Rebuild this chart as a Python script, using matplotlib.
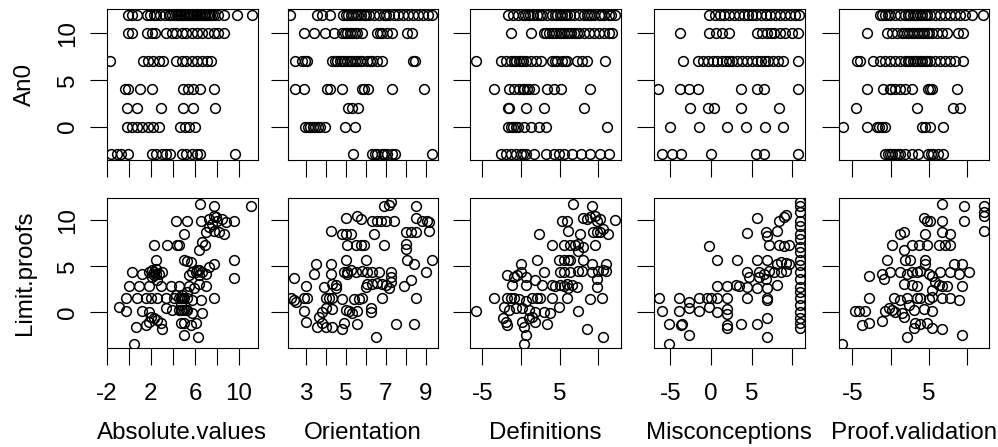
import numpy as np
import matplotlib.pyplot as plt

plt.rcParams['font.family'] = ['Liberation Sans', 'DejaVu Sans']

x_names = ["Absolute.values", "Orientation", "Definitions", "Misconceptions", "Proof.validation"]
y_names = ["An0", "Limit.proofs"]

# An0 takes a handful of levels; x values of the students at each level
an0_absolute = {
    12: [-0.06, 0.24, 0.7, 1.6, 1.9, 2.3, 2.5, 2.8, 3.3, 3.6, 3.75, 3.9, 4.2, 4.35, 4.5, 4.6, 4.75, 4.9,
         5.05, 5.2, 5.35, 5.5, 5.65, 5.8, 5.95, 6.1, 6.2, 6.35, 6.5, 6.65, 6.8, 6.95, 7.1, 7.25, 7.4,
         7.55, 7.7, 8.1, 8.6, 9.8, 11.2],
    10: [-0.06, 0.24, 1.6, 2.06, 2.4, 3.4, 3.9, 4.3, 4.8, 5.2, 5.7, 6.2, 6.6, 7.2, 7.7, 8.1, 8.6],
    7: [-1.7, 1.3, 1.76, 2.2, 2.7, 3.1, 4.3, 4.8, 5.2, 5.7, 6.2, 6.6, 7.1, 7.5],
    4: [-0.36, -0.06, 1.0, 2.06, 4.9, 5.4, 5.8, 6.5, 7.7],
    2: [-0.2, 0.7, 2.9, 4.9, 5.8, 7.8],
    0: [-0.2, 0.24, 0.7, 1.15, 1.76, 2.2, 2.7, 4.6, 5.1, 5.5, 6.0],
    -3: [-1.6, -1.1, -0.7, -0.06, 2.06, 2.5, 3.0, 3.4, 3.7, 4.8, 5.2, 5.7, 6.2, 6.5, 9.6],
}
an0_orientation = {
    12: [2.24, 3.56, 3.81, 4.23, 4.89, 5.0, 5.14, 5.25, 5.39, 5.5, 5.64, 5.75, 5.89, 6.0, 6.14, 6.39,
         6.64, 6.89, 7.0, 7.14, 7.39, 7.63, 7.88, 8.13, 8.38, 8.63, 8.88, 9.13, 9.3],
    10: [2.9, 3.4, 3.98, 4.4, 4.81, 4.95, 5.06, 5.2, 5.31, 5.45, 5.56, 5.81, 6.55, 6.7, 6.8, 7.05, 7.3,
         8.05, 8.3],
    7: [2.49, 2.82, 2.95, 3.07, 4.31, 4.45, 4.56, 4.7, 4.81, 4.9, 5.06, 5.2, 5.31, 5.45, 5.56, 5.7,
        5.81, 6.06, 6.2, 6.31, 6.55, 6.8, 8.38, 8.45],
    4: [2.49, 2.9, 4.06, 4.23, 4.81, 5.81, 5.9, 6.09, 7.3, 8.91],
    2: [5.14, 5.3, 5.64],
    0: [2.98, 3.1, 3.23, 3.35, 3.48, 3.6, 3.73, 3.98, 4.98, 5.48],
    -3: [5.39, 6.31, 6.45, 6.55, 6.8, 6.9, 7.05, 7.3, 7.47, 9.3],
}
an0_definitions = {
    12: [-1.7, -1.07, -0.43, 0.2, 0.5, 0.86, 1.2, 1.5, 2.14, 2.5, 2.78, 3.43, 4.07, 4.4, 4.7, 5.0, 5.36,
         5.7, 6.0, 6.4, 6.86, 7.5, 8.14, 8.5, 8.78, 9.1, 9.43, 10.07, 10.4, 10.7, 11.35, 11.6, 12.2],
    10: [-1.3, 1.3, 3.0, 3.3, 3.64, 4.0, 4.28, 4.6, 4.93, 5.2, 5.57, 5.9, 6.2, 6.5, 6.86, 7.2, 7.5,
         8.14, 8.78, 9.43, 10.07, 10.7, 11.35, 11.8],
    7: [-5.8, -2.57, -1.93, -1.29, -0.9, -0.64, -0.3, 0.0, 0.3, 0.64, 1.29, 1.93, 2.57, 4.07, 4.4, 4.71,
        5.36, 5.7, 6.0, 7.28, 7.93, 8.57, 10.9],
    4: [-3.43, -1.5, -0.86, -0.2, 0.2, 0.43, 0.8, 1.07, 1.71, 3.43, 4.28, 5.14, 9.0],
    2: [-1.71, -1.6, 0.64, 3.0, 8.14],
    0: [-1.71, -1.3, -1.07, -0.7, -0.43, 0.43, 1.29, 2.36, 3.2, 11.1],
    -3: [-2.57, -1.93, -1.29, -0.64, 0.0, 0.2, 0.64, 1.71, 3.2, 4.28, 4.93, 5.57, 6.64, 7.71, 9.0,
         10.28, 11.35],
}
an0_misconceptions = {
    12: [-0.2, 0.45, 1.1, 1.6, 2.2, 2.8, 3.4, 4.0, 4.5, 5.0, 5.5, 6.1, 6.7, 7.3, 7.9, 8.5, 9.1, 9.7,
         10.3, 10.8],
    10: [-3.85, -0.2, 0.6, 1.4, 2.2, 5.67, 6.28, 6.9, 7.4, 7.7, 8.5, 9.1, 9.9, 10.7],
    7: [-3.4, -1.6, -1.0, -0.4, 0.2, 0.8, 1.4, 1.8, 2.2, 2.6, 3.2, 3.8, 4.4, 5.0, 5.6, 6.2, 6.6, 7.0,
        7.6, 8.2, 8.8, 10.7],
    4: [-6.48, -3.85, -2.75, -1.6, 3.64, 5.67, 6.5, 10.7],
    2: [-2.63, -0.4, 0.4, 3.64, 8.3],
    0: [-5.06, -1.42, 2.0, 4.25, 6.68, 8.9],
    -3: [-6.07, -4.8, -3.64, 0.0, 5.47, 6.48, 10.7],
}
an0_proof = {
    12: [-1.39, -1.1, -0.74, -0.4, -0.09, 0.57, 1.22, 1.87, 2.2, 2.53, 2.85, 3.18, 3.5, 3.83, 4.15,
         4.49, 4.8, 5.14, 5.8, 6.45, 7.1, 7.76, 8.41, 9.06, 9.72, 10.6, 12.1],
    10: [-3.14, -0.52, 0.13, 0.78, 1.44, 1.8, 2.09, 2.4, 2.75, 3.1, 3.4, 3.7, 4.05, 4.4, 4.7, 5.0, 5.36,
         6.0, 6.67, 7.32, 8.85, 9.5],
    7: [-4.44, -4.0, -2.27, -1.39, -0.74, -0.09, 0.57, 1.22, 1.87, 2.2, 2.53, 2.85, 3.18, 3.5, 3.83,
        4.15, 4.49, 4.8, 5.14, 5.8, 6.45, 7.1, 7.76, 8.4, 9.5],
    4: [-3.14, -0.96, -0.09, 0.1, 0.57, 1.22, 1.87, 2.75, 4.92, 5.1, 5.36, 8.63],
    2: [-4.53, 3.4, 8.19, 9.06],
    0: [-6.27, -3.14, -1.83, -1.5, -1.18, -0.74, 4.05, 4.49, 5.14, 6.88],
    -3: [-0.74, -0.4, -0.09, 0.2, 0.57, 0.9, 1.22, 1.87, 2.75, 3.62, 4.92, 5.25, 5.58, 6.23, 6.88],
}

# Limit.proofs against each x variable, (x, y) pairs
lp_absolute = [
    (6.45, 11.76), (7.73, 11.51), (11.06, 11.51),
    (4.24, 9.96), (5.3, 9.96), (6.52, 9.96), (7.27, 10.14), (7.73, 10.5), (8.03, 9.96), (8.48, 10.14),
    (8.79, 9.78), (9.55, 9.96), (7.58, 9.6), (7.88, 10.32),
    (7.27, 9.24), (6.97, 8.71), (7.73, 8.88), (8.64, 8.53), (8.18, 8.71), (5.0, 8.53),
    (6.67, 7.63), (6.91, 7.27), (6.36, 6.73), (2.27, 7.27), (3.48, 7.27), (4.39, 7.27), (4.55, 7.27),
    (2.42, 5.65), (5.0, 5.65), (5.3, 5.54), (5.61, 5.47), (7.73, 5.29), (9.55, 5.65), (9.55, 3.74),
    (0.3, 4.39), (1.21, 4.21), (1.82, 4.39), (2.12, 4.57), (2.42, 4.75), (2.73, 4.21), (3.03, 4.39),
    (2.12, 3.85), (2.58, 3.49), (2.27, 4.03), (2.27, 4.39), (2.42, 4.21),
    (5.76, 4.39), (6.21, 4.57), (6.67, 4.39), (6.97, 4.21), (7.27, 4.93), (6.36, 4.03), (5.45, 4.03),
    (6.06, 4.39), (6.36, 4.57),
    (0.0, 2.84), (0.91, 2.84), (1.82, 2.84), (2.88, 2.84), (3.79, 2.84), (4.55, 2.84), (5.45, 2.84),
    (5.91, 2.59), (6.36, 3.13), (6.97, 2.84),
    (-0.3, 1.51), (0.76, 1.51), (1.52, 1.51), (1.97, 1.51), (2.58, 1.51), (3.33, 1.51), (4.09, 1.51),
    (4.55, 1.51), (4.7, 1.51), (4.85, 1.51), (5.0, 1.51), (5.3, 1.51), (5.76, 1.33), (6.52, 1.33),
    (7.73, 1.51), (4.24, 1.87), (4.85, 1.87), (5.3, 2.23),
    (-0.91, 0.61), (-0.3, 0.14), (1.21, 0.14), (1.82, 0.07), (3.33, 0.43), (3.94, 0.25), (4.55, 0.25),
    (4.7, 0.25), (4.85, 0.25), (5.0, 0.25), (5.15, 0.25), (5.3, 0.25), (5.76, -0.11), (6.67, -0.11),
    (4.7, 0.79),
    (1.97, -0.47), (2.27, -0.65), (2.58, -0.83), (1.82, -1.01), (0.61, -1.55), (1.52, -1.37),
    (3.03, -1.8), (2.88, -1.19),
    (4.7, -1.19), (5.0, -1.19), (5.61, -1.37), (6.06, -1.19), (5.0, -2.45), (6.3, -2.7), (0.45, -3.42),
]
lp_orientation = [
    (6.92, 11.58), (7.17, 11.65), (8.5, 11.51), (7.25, 12.01),
    (5.0, 10.22), (5.58, 10.43), (5.75, 10.14), (6.33, 9.96), (6.58, 9.96), (6.75, 9.96), (7.0, 9.96),
    (7.42, 9.96), (8.5, 10.22), (8.83, 9.96), (9.08, 9.96), (9.17, 9.86),
    (4.25, 8.88), (4.83, 8.53), (5.0, 8.53), (5.25, 8.53), (6.42, 8.53), (8.0, 8.71), (8.25, 8.71),
    (8.5, 8.71), (9.17, 8.88),
    (5.08, 7.27), (5.5, 7.27), (5.75, 7.27), (5.92, 7.27), (6.92, 7.27), (8.0, 7.45), (8.0, 6.91),
    (3.5, 5.29), (4.25, 5.29), (5.0, 5.65), (6.0, 5.65), (8.08, 5.65), (8.42, 5.29), (9.33, 5.65),
    (9.0, 4.39),
    (3.42, 4.21), (4.25, 4.21), (4.92, 4.39), (5.08, 4.39), (5.25, 4.57), (5.5, 4.39), (5.83, 4.46),
    (6.08, 4.39), (6.33, 4.39), (6.67, 4.39), (7.25, 4.39), (8.25, 3.49),
    (2.42, 3.74), (4.5, 2.95), (4.33, 3.13), (5.08, 4.21), (6.08, 3.13), (6.33, 3.13), (6.58, 3.24),
    (6.83, 3.13), (7.0, 2.95), (7.25, 3.31), (7.25, 3.85), (7.92, 2.88),
    (3.0, 2.88), (3.08, 1.58), (3.92, 2.77), (4.5, 2.66), (6.0, 2.77), (7.17, 2.59),
    (2.25, 1.58), (2.5, 1.15), (2.42, 1.33), (2.92, 1.58), (4.0, 1.58), (4.17, 1.51), (4.33, 1.51),
    (4.83, 1.44), (5.42, 1.44), (5.67, 1.44), (5.83, 1.51), (6.83, 1.58), (8.5, 1.51),
    (2.92, 0.14), (3.83, 0.07), (4.0, 0.43), (4.33, 0.36), (5.0, 0.25), (5.17, 0.14), (5.33, -0.11),
    (5.58, 0.14), (6.25, 0.43), (6.25, 0.07),
    (3.0, -1.01), (3.67, -0.47), (3.83, -1.19), (3.58, -1.65), (4.0, -1.55), (4.33, -1.55), (4.83, -1.8),
    (4.92, -1.19), (5.58, -1.26), (7.5, -1.26), (8.42, -1.26), (6.5, -2.73),
]
lp_definitions = [
    (6.79, 11.76), (9.15, 11.51), (5.3, 9.96), (5.94, 9.96), (8.08, 10.22), (8.5, 10.14), (8.93, 10.32),
    (9.57, 10.43), (9.79, 9.96), (10.21, 10.14), (12.14, 10.07),
    (2.31, 8.53), (6.15, 8.88), (7.65, 8.53), (9.36, 8.71), (9.79, 8.71), (10.21, 8.78), (11.28, 8.53),
    (10.64, 9.06),
    (4.02, 7.27), (5.51, 7.27), (6.37, 7.27), (7.01, 7.27), (7.44, 7.45), (8.08, 7.09), (9.57, 7.27),
    (7.44, 6.62),
    (-0.04, 5.29), (2.09, 5.65), (4.87, 5.65), (5.51, 5.65), (6.15, 5.65), (6.37, 5.65), (8.08, 5.65),
    (9.15, 5.29), (11.07, 5.29),
    (-1.75, 4.03), (-0.9, 3.85), (-0.47, 4.1), (-0.04, 4.39), (0.6, 3.85), (-1.11, 2.95), (0.6, 2.95),
    (2.95, 4.39), (5.09, 4.39), (5.51, 4.39), (6.37, 4.39), (7.44, 4.46), (7.86, 4.46), (9.15, 4.39),
    (10.0, 4.46), (10.64, 4.57), (11.07, 4.46), (9.79, 3.67), (9.79, 2.77),
    (1.88, 3.49), (2.74, 2.95), (4.02, 2.95), (4.44, 2.88), (5.09, 3.02), (5.51, 2.88), (5.94, 3.13),
    (6.58, 2.95), (7.22, 2.77), (6.15, 2.59),
    (-5.81, 0.14), (-3.46, 1.58), (-1.75, 1.58), (-1.32, 1.51), (-0.9, 1.58), (-0.26, 1.44), (0.6, 1.22),
    (1.45, 1.51), (2.09, 1.58), (2.52, 1.51), (4.02, 1.58), (5.94, 1.58), (8.93, 1.44), (10.43, 1.58),
    (-2.18, 0.61), (-1.54, 0.25), (-0.68, 0.43), (0.17, 0.43), (1.03, 0.25), (1.88, 0.07), (2.95, 0.0),
    (3.8, -0.11), (4.87, 0.61), (7.44, 0.14),
    (-2.39, -0.58), (-1.97, -1.08), (-1.75, -1.37), (0.17, -1.08), (0.38, -1.55), (1.03, -0.65),
    (1.45, -0.47), (1.88, -1.01), (3.38, -1.29),
    (0.6, -2.52), (0.38, -3.45), (8.5, -1.8), (10.64, -2.66),
]
lp_misconceptions = [
    (10.94, 12.0), (10.94, 11.6), (10.94, 10.86), (10.94, 9.96), (10.94, 9.42), (10.94, 8.53),
    (10.94, 7.99), (10.94, 7.09), (10.94, 6.55), (10.94, 5.65), (10.94, 5.11), (10.94, 4.39),
    (10.94, 3.67), (10.94, 2.77), (10.94, 2.23), (10.94, 1.51), (10.94, 0.79), (10.94, 0.07),
    (10.94, -0.65), (10.94, -1.19), (10.94, -1.73),
    (5.7, 10.22), (8.36, 9.96), (8.98, 10.32), (9.18, 10.58), (4.47, 8.63), (6.72, 8.71), (8.16, 8.88),
    (6.93, 8.35),
    (-0.25, 7.19), (7.13, 7.27), (8.36, 7.27), (8.98, 7.19), (9.59, 7.34),
    (0.78, 5.65), (3.24, 5.65), (5.7, 5.65), (6.93, 5.65), (8.16, 5.29), (8.57, 5.47), (9.18, 5.4),
    (9.59, 5.29),
    (4.47, 4.39), (5.9, 4.39), (6.52, 4.21), (7.13, 4.46), (7.75, 4.39), (4.67, 3.85), (5.9, 3.85),
    (6.72, 3.67), (8.16, 2.95), (8.57, 4.39), (9.18, 4.46),
    (0.78, 2.88), (2.0, 2.88), (3.03, 2.95), (3.44, 2.88), (4.47, 2.77), (5.7, 2.59), (6.93, 2.59),
    (-6.39, 1.58), (-3.93, 1.58), (-2.7, 1.15), (-1.48, 1.58), (-0.45, 1.51), (-0.04, 1.58), (0.78, 1.58),
    (2.0, 1.58), (4.47, 1.58), (6.93, 1.58), (6.93, 1.33),
    (-5.98, 0.14), (-3.93, 0.14), (-2.7, 0.43), (-1.48, 0.14), (-0.25, 0.61), (0.78, 0.0), (2.0, 0.36),
    (2.0, -0.22),
    (-5.16, -1.29), (-3.73, -1.37), (-3.52, -1.29), (-2.7, -2.52), (2.0, -1.37), (2.0, -1.73),
    (3.65, -1.29), (5.7, -1.29), (6.93, -0.58), (6.93, -2.73), (-5.16, -3.45),
]
lp_proof = [
    (6.72, 11.76), (9.56, 11.51), (12.18, 11.58), (12.18, 10.43), (12.18, 10.86), (12.18, 8.88),
    (9.56, 9.96), (6.72, 9.96), (4.32, 10.22), (4.76, 9.96), (5.2, 9.96),
    (1.27, 8.53), (1.7, 8.71), (4.54, 8.53), (6.72, 8.78), (7.82, 8.53),
    (0.17, 7.27), (2.79, 7.34), (3.67, 7.27), (4.76, 7.27), (6.29, 7.27), (7.16, 7.27), (7.82, 7.27),
    (1.7, 6.73),
    (-0.48, 5.65), (1.92, 5.65), (2.58, 5.65), (4.54, 5.65), (4.54, 5.29),
    (-2.88, 3.96), (-1.14, 4.21), (-0.92, 3.6), (-0.04, 4.39), (1.27, 4.39), (2.14, 4.21), (2.79, 4.39),
    (3.45, 4.39), (3.89, 4.46), (4.98, 4.21), (5.41, 3.96), (6.51, 4.39), (7.82, 4.39), (8.25, 5.29),
    (9.34, 5.29), (10.22, 4.39), (8.91, 4.21),
    (1.7, 3.13), (2.79, 2.95), (3.45, 2.88), (5.85, 3.31), (6.29, 2.95), (6.72, 2.88), (7.38, 2.88),
    (9.34, 2.88), (5.41, 2.41),
    (-2.88, 1.58), (0.39, 1.58), (1.27, 1.33), (2.14, 1.58), (3.45, 1.58), (3.89, 1.51), (4.98, 1.44),
    (5.41, 1.69), (6.72, 1.58), (7.82, 1.58), (8.91, 1.33), (2.36, 0.79),
    (-4.63, 0.14), (-4.19, 0.14), (-3.32, 0.14), (-0.7, 0.14), (-0.26, 0.43), (0.17, 0.25), (0.61, 0.0),
    (1.48, -0.11), (3.01, 0.25), (4.32, 0.36), (5.41, 0.14),
    (-3.76, -1.37), (-2.88, -1.19), (-1.14, -0.94), (1.7, -0.47), (3.23, -1.19), (3.89, -1.29),
    (4.76, -1.19), (5.41, -1.73), (6.72, -1.8), (3.01, -1.73), (2.14, -2.73), (9.34, -2.52),
    (-6.38, -3.45),
]

an0_panels = [an0_absolute, an0_orientation, an0_definitions, an0_misconceptions, an0_proof]
lp_panels = [lp_absolute, lp_orientation, lp_definitions, lp_misconceptions, lp_proof]

x_limits = [(-2.0, 11.7), (2.1, 9.61), (-6.6, 12.9), (-7.0, 11.5), (-6.83, 12.87)]
x_ticks = [[-2, 0, 2, 4, 6, 8, 10], [3, 4, 5, 6, 7, 8, 9], [-5, 0, 5, 10], [-5, 0, 5, 10], [-5, 0, 5, 10]]
x_ticklabels = [["-2", "", "2", "", "6", "", "10"], ["3", "", "5", "", "7", "", "9"],
                ["-5", "", "5", ""], ["-5", "0", "5", ""], ["-5", "", "5", ""]]
y_limits = [(-3.6, 12.6), (-3.85, 12.4)]
y_ticks = [0, 5, 10]
y_ticklabels = ["0", "5", "10"]

W, H = 998, 447
fig = plt.figure(figsize=(W / 100, H / 100), dpi=100)

lefts = [107, 287.5, 470, 654, 838.5]
panel_w = 150.6
tops = [9.3, 198.3]
heights = [150.7, 149.4]
fs = 17.4
marker = dict(linestyle='none', marker='o', mfc='none', mec='black', ms=7, mew=1.1)

for r in range(2):
    for c in range(5):
        ax = fig.add_axes([lefts[c] / W, 1 - (tops[r] + heights[r]) / H, panel_w / W, heights[r] / H])
        if r == 0:
            for level, xs in an0_panels[c].items():
                ax.plot(xs, [level] * len(xs), **marker)
        else:
            pts = np.array(lp_panels[c])
            ax.plot(pts[:, 0], pts[:, 1], **marker)
        ax.set_xlim(*x_limits[c])
        ax.set_ylim(*y_limits[r])
        ax.set_xticks(x_ticks[c])
        ax.set_xticklabels(x_ticklabels[c])
        ax.set_yticks(y_ticks)
        ax.set_yticklabels(y_ticklabels, rotation=90, va='center')
        ax.tick_params(direction='out', length=12, width=0.8, labelsize=fs, color='black')
        ax.tick_params(axis='x', pad=13.4, labelbottom=(r == 1))
        ax.tick_params(axis='y', pad=8.3, labelleft=(c == 0))
        for s in ax.spines.values():
            s.set_linewidth(0.8)
        if r == 1:
            fig.text((lefts[c] + panel_w / 2) / W, 1 - 433 / H, x_names[c],
                     ha='center', va='center', fontsize=fs)
        if c == 0:
            fig.text(25 / W, 1 - (tops[r] + heights[r] / 2) / H, y_names[r],
                     ha='center', va='center', rotation=90, fontsize=fs)

fig.savefig("out.png", dpi=100)
